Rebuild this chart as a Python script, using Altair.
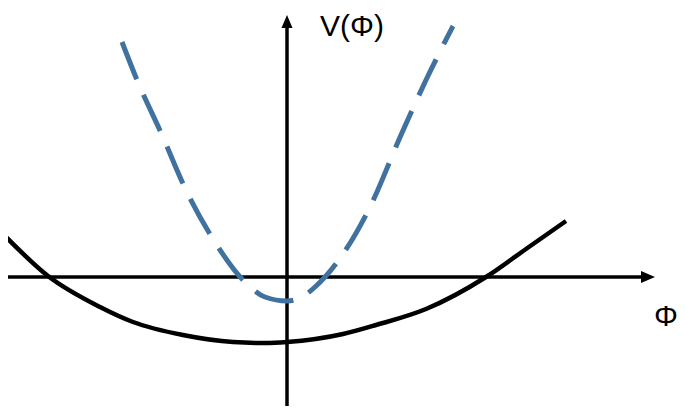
import altair as alt
import pandas as pd

# Solid black potential curve (Phi, V)
solid_phi = [-2.83, -2.39, -1.87, -1.54, -1.04, -0.54, -0.22, 0.00, 0.56, 0.89, 1.39, 1.99, 2.39, 2.79]
solid_v = [0.42, 0.01, -0.30, -0.45, -0.58, -0.65, -0.66, -0.65, -0.57, -0.48, -0.32, 0.00, 0.28, 0.56]

# Dashed blue potential curve
dashed_phi = [-1.65, -1.50, -1.25, -1.02, -0.74, -0.39, -0.22, 0.00, 0.15, 0.28, 0.56, 0.83, 1.14, 1.39, 1.66]
dashed_v = [2.35, 1.97, 1.42, 0.89, 0.38, -0.08, -0.20, -0.24, -0.20, -0.10, 0.23, 0.70, 1.42, 1.97, 2.51]

# Axis lines (horizontal Phi axis and vertical V axis)
h_axis_phi = [-2.87, 3.56]
v_axis_v = [-1.37, 2.50]

# Arrow heads
arrow_phi = [3.61, 0.00]
arrow_v = [0.00, 2.555]

# Axis labels
label_text = ["V(Φ)", "Φ"]
label_phi = [0.65, 3.79]
label_v = [2.41, -0.485]

X_DOMAIN = [-2.79, 3.90]
Y_DOMAIN = [-1.29, 2.69]

xs = alt.Scale(domain=X_DOMAIN, nice=False, zero=False)
ys = alt.Scale(domain=Y_DOMAIN, nice=False, zero=False)

solid_df = pd.DataFrame({"phi": solid_phi, "v": solid_v, "o": range(len(solid_phi))})
dashed_df = pd.DataFrame({"phi": dashed_phi, "v": dashed_v, "o": range(len(dashed_phi))})
haxis_df = pd.DataFrame({"x1": [h_axis_phi[0]], "x2": [h_axis_phi[1]], "y": [0.0]})
vaxis_df = pd.DataFrame({"x": [0.0], "y1": [v_axis_v[0]], "y2": [v_axis_v[1]]})
label_df = pd.DataFrame({"t": label_text, "phi": label_phi, "v": label_v})

haxis = alt.Chart(haxis_df).mark_rule(color="black", strokeWidth=3.5).encode(
    x=alt.X("x1:Q", scale=xs, axis=None), x2="x2:Q",
    y=alt.Y("y:Q", scale=ys, axis=None))
vaxis = alt.Chart(vaxis_df).mark_rule(color="black", strokeWidth=3.5).encode(
    x=alt.X("x:Q", scale=xs, axis=None),
    y=alt.Y("y1:Q", scale=ys, axis=None), y2="y2:Q")

arrow_r = alt.Chart(pd.DataFrame({"phi": [arrow_phi[0]], "v": [arrow_v[0]]})).mark_point(
    shape="M-1,-0.86L1,0L-1,0.86Z", size=196, filled=True, color="black", opacity=1, strokeWidth=0
).encode(x=alt.X("phi:Q", scale=xs, axis=None), y=alt.Y("v:Q", scale=ys, axis=None))
arrow_u = alt.Chart(pd.DataFrame({"phi": [arrow_phi[1]], "v": [arrow_v[1]]})).mark_point(
    shape="M0,-1L0.85,1L-0.85,1Z", size=169, filled=True, color="black", opacity=1, strokeWidth=0
).encode(x=alt.X("phi:Q", scale=xs, axis=None), y=alt.Y("v:Q", scale=ys, axis=None))

solid = alt.Chart(solid_df).mark_line(color="black", strokeWidth=4.5, interpolate="monotone",
                                      strokeCap="butt").encode(
    x=alt.X("phi:Q", scale=xs, axis=None), y=alt.Y("v:Q", scale=ys, axis=None), order="o:Q")

dashed = alt.Chart(dashed_df).mark_line(color="#41729F", strokeWidth=5, interpolate="monotone",
                                        strokeDash=[40, 17], strokeCap="butt").encode(
    x=alt.X("phi:Q", scale=xs, axis=None), y=alt.Y("v:Q", scale=ys, axis=None), order="o:Q")

labels = alt.Chart(label_df).mark_text(font="Liberation Sans", fontSize=30, color="black",
                                       align="center", baseline="alphabetic").encode(
    x=alt.X("phi:Q", scale=xs, axis=None), y=alt.Y("v:Q", scale=ys, axis=None), text="t:N")

chart = alt.layer(haxis, vaxis, arrow_r, arrow_u, solid, dashed, labels).properties(
    width=669, height=398, padding=0, autosize=alt.AutoSizeParams(type="none"),
    background="white"
).configure_view(stroke=None)

chart.save("out.html", embed_options={"renderer": "svg", "actions": False})
